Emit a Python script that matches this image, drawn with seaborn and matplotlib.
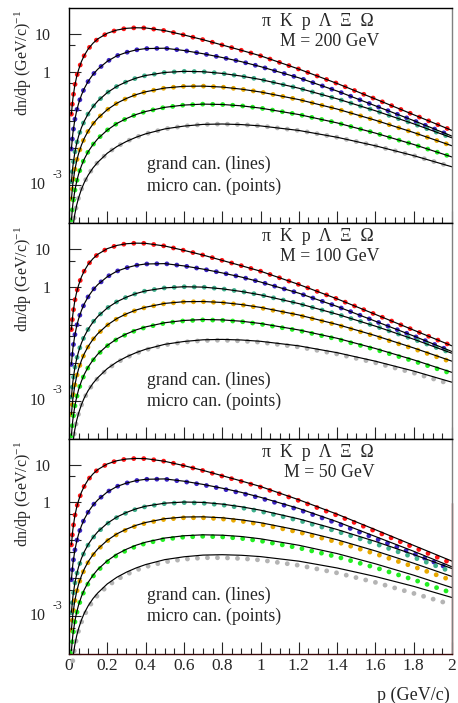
"""Momentum spectra of pi, K, p, Lambda, Xi, Omega: grand vs micro canonical."""

import matplotlib

matplotlib.use("Agg")
import matplotlib.pyplot as plt
import matplotlib.ticker as mticker
import numpy as np
import pandas as pd
import seaborn as sns


# momentum grid, GeV/c
P = [0.0125, 0.02, 0.03, 0.04, 0.05, 0.065, 0.08, 0.1, 0.125, 0.15, 0.2, 0.25, 0.3,
     0.35, 0.4, 0.5, 0.6, 0.7, 0.8, 0.9, 1.0, 1.2, 1.4, 1.6, 1.8, 2.0]

# grand canonical curves (the lines), log10 of dn/dp;
# they are the same in all three panels
pion_gc = [-1.12, -0.72, -0.37, -0.13, 0.05, 0.27, 0.43, 0.60, 0.75, 0.865, 1.015, 1.10, 1.145,
           1.16, 1.155, 1.085, 0.97, 0.845, 0.705, 0.565, 0.42, 0.07, -0.31, -0.72, -1.135, -1.55]
kaon_gc = [-2.04, -1.63, -1.28, -1.03, -0.84, -0.615, -0.44, -0.255, -0.075, 0.065, 0.275, 0.42, 0.51,
           0.575, 0.61, 0.62, 0.56, 0.475, 0.375, 0.265, 0.135, -0.16, -0.51, -0.90, -1.29, -1.70]
proton_gc = [-2.90, -2.50, -2.145, -1.895, -1.70, -1.475, -1.30, -1.11, -0.925, -0.775, -0.55, -0.385, -0.265,
             -0.17, -0.10, -0.02, 0.01, 0.0, -0.045, -0.115, -0.205, -0.435, -0.715, -1.03, -1.375, -1.745]
lambda_gc = [-3.36, -2.955, -2.605, -2.355, -2.16, -1.935, -1.755, -1.565, -1.38, -1.23, -1.0, -0.83, -0.705,
             -0.605, -0.53, -0.43, -0.385, -0.38, -0.405, -0.46, -0.535, -0.735, -0.985, -1.28, -1.605, -1.955]
xi_gc = [-3.91, -3.50, -3.15, -2.90, -2.705, -2.48, -2.30, -2.11, -1.925, -1.77, -1.54, -1.365, -1.235,
         -1.13, -1.05, -0.94, -0.88, -0.855, -0.865, -0.90, -0.96, -1.13, -1.35, -1.62, -1.92, -2.25]
omega_gc = [np.nan, -4.12, -3.77, -3.52, -3.33, -3.10, -2.92, -2.73, -2.54, -2.39, -2.15, -1.975, -1.84,
            -1.73, -1.64, -1.51, -1.435, -1.39, -1.38, -1.395, -1.43, -1.55, -1.73, -1.955, -2.215, -2.51]

# micro canonical points, M = 100 GeV (pi, K, p sit on their lines)
lambda_mc100 = [-3.365, -2.96, -2.61, -2.36, -2.165, -1.94, -1.76, -1.57, -1.385, -1.235, -1.005, -0.835, -0.71,
                -0.61, -0.535, -0.435, -0.39, -0.385, -0.41, -0.465, -0.545, -0.745, -0.995, -1.295, -1.625, -1.98]
xi_mc100 = [-3.92, -3.51, -3.16, -2.91, -2.715, -2.49, -2.31, -2.12, -1.935, -1.78, -1.55, -1.375, -1.245,
            -1.14, -1.06, -0.95, -0.89, -0.865, -0.875, -0.91, -0.975, -1.145, -1.37, -1.645, -1.95, -2.285]
omega_mc100 = [np.nan, -4.135, -3.785, -3.535, -3.345, -3.115, -2.935, -2.745, -2.555, -2.405, -2.165, -1.99,
               -1.855, -1.745, -1.655, -1.525, -1.45, -1.41, -1.40, -1.42, -1.455, -1.58, -1.765, -1.995,
               -2.265, -2.57]

# micro canonical points, M = 50 GeV
pion_mc50 = [-1.12, -0.72, -0.37, -0.13, 0.05, 0.27, 0.43, 0.60, 0.75, 0.865, 1.015, 1.10, 1.145,
             1.16, 1.155, 1.085, 0.97, 0.84, 0.695, 0.555, 0.405, 0.05, -0.34, -0.76, -1.185, -1.61]
kaon_mc50 = [-2.04, -1.63, -1.28, -1.03, -0.84, -0.615, -0.44, -0.255, -0.075, 0.065, 0.275, 0.42, 0.51,
             0.575, 0.61, 0.615, 0.55, 0.465, 0.36, 0.245, 0.115, -0.19, -0.55, -0.95, -1.35, -1.775]
proton_mc50 = [-2.91, -2.51, -2.155, -1.905, -1.71, -1.485, -1.31, -1.12, -0.935, -0.785, -0.56, -0.395, -0.275,
               -0.18, -0.11, -0.03, -0.005, -0.02, -0.065, -0.14, -0.235, -0.475, -0.765, -1.09, -1.45, -1.835]
lambda_mc50 = [-3.375, -2.97, -2.62, -2.37, -2.175, -1.95, -1.77, -1.58, -1.395, -1.245, -1.015, -0.845, -0.72,
               -0.62, -0.545, -0.445, -0.405, -0.405, -0.435, -0.495, -0.575, -0.785, -1.045, -1.355, -1.695, -2.06]
xi_mc50 = [-3.94, -3.53, -3.18, -2.93, -2.735, -2.51, -2.33, -2.14, -1.955, -1.80, -1.57, -1.395, -1.265,
           -1.16, -1.08, -0.97, -0.915, -0.895, -0.91, -0.95, -1.015, -1.20, -1.435, -1.72, -2.04, -2.39]
omega_mc50 = [np.nan, -4.18, -3.83, -3.58, -3.39, -3.16, -2.98, -2.79, -2.60, -2.45, -2.21, -2.035, -1.90,
              -1.79, -1.70, -1.57, -1.50, -1.46, -1.46, -1.48, -1.52, -1.66, -1.86, -2.11, -2.40, -2.70]

SPECIES = ["pi", "K", "p", "Lambda", "Xi", "Omega"]
COLORS = ["#ff1414", "#3b24c2", "#3fb08c", "#e8a800", "#22ee22", "#b4b4b4"]
MASSES = [200, 100, 50]
GRAND = [pion_gc, kaon_gc, proton_gc, lambda_gc, xi_gc, omega_gc]
MICRO = {
    200: GRAND,  # points on top of the lines
    100: [pion_gc, kaon_gc, proton_gc, lambda_mc100, xi_mc100, omega_mc100],
    50: [pion_mc50, kaon_mc50, proton_mc50, lambda_mc50, xi_mc50, omega_mc50],
}


def long_frame(curves):
    parts = []
    for name, logs in zip(SPECIES, curves):
        parts.append(pd.DataFrame({"p": P, "dndp": 10.0 ** np.asarray(logs, float), "species": name}))
    return pd.concat(parts, ignore_index=True).dropna()


def style_axes(ax, bottom):
    ax.set_xlim(0, 2)
    ax.set_ylim(1e-4, 48)
    ax.xaxis.set_major_locator(mticker.MultipleLocator(0.2))
    ax.xaxis.set_minor_locator(mticker.MultipleLocator(0.05))
    ax.xaxis.set_major_formatter(mticker.FuncFormatter(lambda v, _: f"{v:g}"))
    ax.yaxis.set_major_locator(mticker.FixedLocator([1e-4, 1e-3, 1e-2, 1e-1, 1, 10]))
    ax.yaxis.set_major_formatter(mticker.FixedFormatter(["", "", "", "", "1", "10"]))
    ax.yaxis.set_minor_locator(mticker.FixedLocator([5e-4, 5e-3, 5e-2, 0.5, 5]))
    ax.yaxis.set_minor_formatter(mticker.NullFormatter())
    ax.tick_params(axis="both", which="both", direction="in", top=False, right=False, width=0.8)
    ax.tick_params(axis="both", which="major", length=8.6)
    ax.tick_params(axis="both", which="minor", length=4.3)
    ax.tick_params(axis="y", which="major", pad=13, labelsize=11.5)
    ax.tick_params(axis="x", which="major", pad=3, labelsize=12.5, labelbottom=bottom)
    ax.set_xlabel("")
    ax.set_ylabel("")
    for side in ["left", "bottom", "top", "right"]:
        ax.spines[side].set_linewidth(1.0)
        ax.spines[side].set_color("black")
    ax.spines["right"].set_color("#808080")
    if bottom:
        ax.spines["bottom"].set_color("#3a0808")
        ax.axvline(2, ymin=0, ymax=0.7, color="#a83030", linewidth=1.0, clip_on=False)


def main():
    sns.set_style("ticks")
    plt.rcParams["font.family"] = ["Liberation Serif", "DejaVu Serif"]
    plt.rcParams["mathtext.fontset"] = "custom"
    plt.rcParams["mathtext.rm"] = "Liberation Serif"
    plt.rcParams["mathtext.it"] = "Liberation Serif:italic"

    fig = plt.figure(figsize=(4.58, 7.03), dpi=100)
    left, width, height = 69 / 458, 383 / 458, 215.3 / 703
    bottoms = [(703 - 223.3) / 703, (703 - 438.7) / 703, (703 - 654) / 703]
    grand = long_frame(GRAND)
    palette = dict(zip(SPECIES, COLORS))
    black = dict.fromkeys(SPECIES, "black")

    for mass, bottom in zip(MASSES, bottoms):
        ax = fig.add_axes([left, bottom, width, height])
        ax.set_yscale("log")
        micro = long_frame(MICRO[mass])
        # the points are round dots about 10 px apart along each curve
        sns.lineplot(data=micro, x="p", y="dndp", hue="species", hue_order=SPECIES,
                     palette=palette, estimator=None, sort=False, linewidth=3.5,
                     legend=False, ax=ax)
        for line in ax.lines:
            line.set_dashes([0.001, 2.06])
            line.set_dash_capstyle("round")
            line.set_clip_on(False)
        sns.lineplot(data=grand, x="p", y="dndp", hue="species", hue_order=SPECIES,
                     palette=black, estimator=None, sort=False, linewidth=0.85,
                     legend=False, ax=ax)
        style_axes(ax, bottom=(mass == 50))

        ax.text(0.649, 0.937, "\u03c0  K  p  \u039b  \u039e  \u03a9", transform=ax.transAxes,
                ha="center", va="center", fontsize=12.8)
        ax.text(0.681, 0.844, f"M = {mass} GeV", transform=ax.transAxes,
                ha="center", va="center", fontsize=12.8)
        ax.text(0.203, 0.273, "grand can. (lines)", transform=ax.transAxes,
                ha="left", va="center", fontsize=12.8)
        ax.text(0.203, 0.173, "micro can. (points)", transform=ax.transAxes,
                ha="left", va="center", fontsize=12.8)
        ax.text(-0.12, 0.99, "dn/dp (GeV/c)$^{-1}$", transform=ax.transAxes, rotation=90,
                ha="center", va="top", fontsize=11.5)
        ylab = ax.get_yaxis_transform()
        ax.text(-0.062, 1e-3, "10", transform=ylab, ha="right", va="center", fontsize=11.5)
        ax.text(-0.042, 1.9e-3, "-3", transform=ylab, ha="left", va="center", fontsize=8.5)
        if mass == 50:
            ax.text(0.995, -0.19, "p (GeV/c)", transform=ax.transAxes,
                    ha="right", va="center", fontsize=13)

    fig.savefig("out.png", dpi=100)
    plt.close(fig)


if __name__ == "__main__":
    main()
